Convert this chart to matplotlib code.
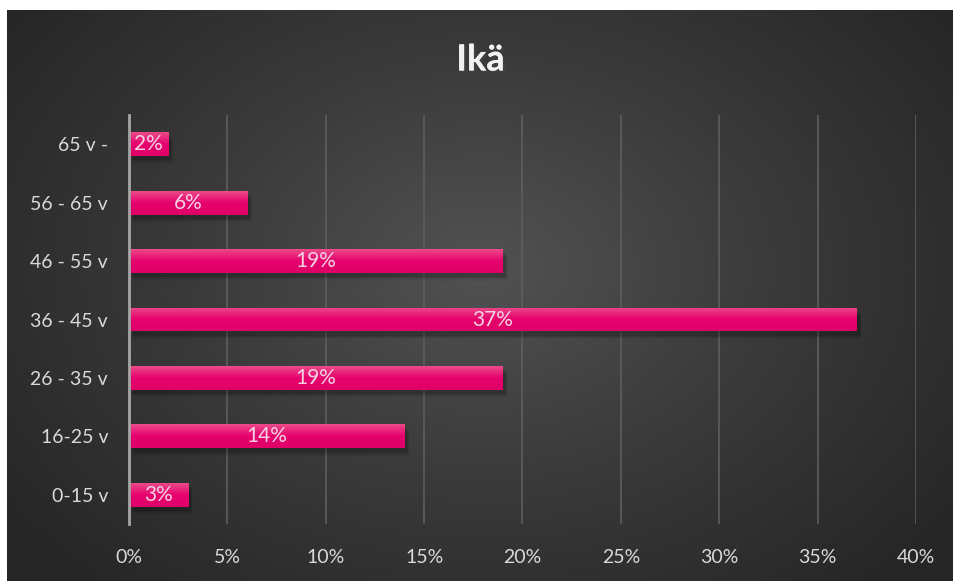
import numpy as np
import matplotlib
matplotlib.use("Agg")
import matplotlib.pyplot as plt
from matplotlib.patches import Rectangle
from matplotlib.colors import LinearSegmentedColormap
import matplotlib.patheffects as pe

categories = ["0-15 v", "16-25 v", "26 - 35 v", "36 - 45 v", "46 - 55 v", "56 - 65 v", "65 v -"]
values = [3, 14, 19, 37, 19, 6, 2]
xticks = [0, 5, 10, 15, 20, 25, 30, 35, 40]
title = "Ikä"

plt.rcParams['font.family'] = ['Lato', 'DejaVu Sans']

W, H = 954, 581
fig = plt.figure(figsize=(W / 100, H / 100), dpi=100)
fig.patch.set_facecolor("white")

# Background panel with radial gradient
bg = fig.add_axes([7 / W, 0, 1 - 7 / W, 1 - 10 / H])
bg.set_axis_off()
ny, nx = 300, 500
yy, xx = np.mgrid[0:ny, 0:nx]
cx, cy = nx * 0.5, ny * 0.45
r = np.sqrt(((xx - cx) / (nx * 0.62)) ** 2 + ((yy - cy) / (ny * 0.75)) ** 2)
r = np.clip(r, 0, 1)
cmap_bg = LinearSegmentedColormap.from_list("bg", ["#525252", "#3a3a3a", "#262626"])
bg.imshow(r, cmap=cmap_bg, aspect="auto", extent=[0, 1, 0, 1], vmin=0, vmax=1)
bg.set_xlim(0, 1)
bg.set_ylim(0, 1)

ax = fig.add_axes([129 / W, 1 - 524 / H, (916 - 129) / W, (524 - 115) / H])
ax.patch.set_alpha(0)
ypos = np.arange(len(categories))
bh = 0.41
ax.set_xlim(0, 40)
ax.set_ylim(-0.5, len(categories) - 0.5)

cmap_bar = LinearSegmentedColormap.from_list("bar", ["#DF0068", "#E6026D", "#EC4A8A"])
grad = np.linspace(0, 1, 64).reshape(-1, 1)
for y, v in zip(ypos, values):
    # soft shadow
    for k, a in enumerate([0.10, 0.08, 0.06, 0.04]):
        d = 0.02 * (k + 1)
        sh = Rectangle((0.1 + d * 2, y - bh / 2 - 0.05 - d), v, bh, facecolor="black",
                       alpha=a, edgecolor="none", zorder=2)
        ax.add_patch(sh)
    bars = ax.barh([y], [v], height=bh, color="#E4006C", zorder=3)
    patch = bars[0]
    im = ax.imshow(grad, cmap=cmap_bar, aspect="auto",
                   extent=[0, v, y - bh / 2, y + bh / 2], origin="lower", zorder=3.5)
    im.set_clip_path(patch)
    ax.text(v / 2, y, f"{v}%", ha="center", va="center", color="#F4D2E2",
            fontsize=15, zorder=5)

ax.set_xlim(0, 40)
ax.set_ylim(-0.5, len(categories) - 0.5)
ax.set_xticks(xticks)
ax.set_xticklabels([f"{t}%" for t in xticks])
ax.set_yticks(ypos)
ax.set_yticklabels(categories)
ax.tick_params(axis="both", length=0, colors="#D9D9D9", labelsize=14)
ax.tick_params(axis="x", pad=18)
ax.tick_params(axis="y", pad=15)
ax.grid(axis="x", color="#5e5e5e", linewidth=1.2, zorder=0)
ax.set_axisbelow(True)
for s in ["top", "right", "bottom"]:
    ax.spines[s].set_visible(False)
ax.spines["left"].set_color("#A6A6A6")
ax.spines["left"].set_linewidth(2)
ax.spines["left"].set_zorder(6)

fig.text(0.5 * (1 + 7 / W) + 0.0, 1 - 60 / H, title, ha="center", va="center",
         color="#F2F2F2", fontsize=26, fontweight="bold",
         path_effects=[pe.withSimplePatchShadow(offset=(1.5, -1.5), alpha=0.5),
                       pe.Normal()])

fig.savefig("out.png", dpi=100, facecolor=fig.get_facecolor())
